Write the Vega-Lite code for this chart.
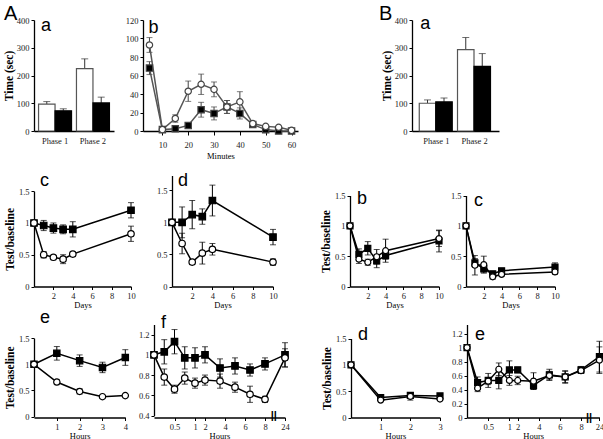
{
"$schema": "https://vega.github.io/schema/vega-lite/v6.json",
"background": "white",
"padding": {"left": 3, "top": 4, "right": 0, "bottom": 0},
"spacing": 0,
"resolve": {"scale": {"x": "independent", "y": "independent"}},
"config": {
  "view": {"stroke": null},
  "font": "Liberation Serif",
  "axis": {"grid": false, "labelFont": "Liberation Serif", "labelFontSize": 8.5, "labelColor": "#222", "domainColor": "#000", "domainWidth": 1.3, "tickColor": "#000", "tickWidth": 1, "tickSize": 3, "labelPadding": 2, "titleFont": "Liberation Serif", "titleColor": "#000", "labelFlush": false, "labelOverlap": false},
  "axisY": {"titleFontWeight": "bold", "titleFontSize": 11.5, "titlePadding": 3},
  "axisX": {"titleFontWeight": "normal", "titleFontSize": 8.5, "titlePadding": 0, "labelPadding": 2},
  "title": {"font": "Liberation Sans", "fontWeight": "normal", "fontSize": 18, "anchor": "start", "frame": "group", "baseline": "alphabetic", "color": "#000"}
},
"vconcat": [
{
 "hconcat": [
  {
   "width": 80, "height": 111,
   "title": {"text": "A", "fontSize": 20, "offset": -8, "dx": -30},
   "data": {"values": [
     {"phase": "Phase 1", "g": "open", "v": 97, "hi": 106},
     {"phase": "Phase 1", "g": "closed", "v": 73, "hi": 80},
     {"phase": "Phase 2", "g": "open", "v": 225, "hi": 260},
     {"phase": "Phase 2", "g": "closed", "v": 101, "hi": 122}]},
   "encoding": {
     "x": {"field": "phase", "type": "nominal", "scale": {"paddingInner": 0.13, "paddingOuter": 0.12}, "axis": {"title": null, "labelAngle": 0, "ticks": false, "labelPadding": 5}},
     "y": {"field": "v", "type": "quantitative", "scale": {"domain": [0, 400], "nice": false}, "axis": {"values": [0, 100, 200, 300, 400], "format": ".2~f", "title": "Time (sec)", "titlePadding": 2}}
   },
   "layer": [
     {"mark": {"type": "rule", "color": "#333", "strokeWidth": 1}, "encoding": {"xOffset": {"field": "g", "type": "nominal", "scale": {"domain": ["open", "closed"]}}, "y2": {"field": "hi"}}},
     {"mark": {"type": "tick", "color": "#333", "thickness": 1, "size": 7}, "encoding": {"xOffset": {"field": "g", "type": "nominal", "scale": {"domain": ["open", "closed"]}}, "y": {"field": "hi", "type": "quantitative", "title": "Time (sec)"}}},
     {"mark": {"type": "bar", "strokeWidth": 1.2}, "encoding": {"xOffset": {"field": "g", "type": "nominal", "scale": {"domain": ["open", "closed"]}}, "fill": {"field": "g", "type": "nominal", "scale": {"domain": ["open", "closed"], "range": ["#fff", "#000"]}, "legend": null}, "stroke": {"field": "g", "type": "nominal", "scale": {"domain": ["open", "closed"], "range": ["#555", "#000"]}, "legend": null}}}
   ]
  },
  {"width": 28.7, "height": 10, "title": {"text": "a", "offset": -15.3, "dx": -73}, "data": {"values": []}, "mark": "point", "encoding": {}},
  {
   "width": 155, "height": 111,
   "title": {"text": "b", "offset": -20.5, "dx": 5.5},
   "data": {"values": [
     {"t": 5, "g": "closed", "v": 68, "e": 7}, {"t": 10, "g": "closed", "v": 1.5, "e": 0}, {"t": 15, "g": "closed", "v": 2.5, "e": 0.5}, {"t": 20, "g": "closed", "v": 6, "e": 2}, {"t": 25, "g": "closed", "v": 23, "e": 8}, {"t": 30, "g": "closed", "v": 19, "e": 7}, {"t": 35, "g": "closed", "v": 26, "e": 7}, {"t": 40, "g": "closed", "v": 19, "e": 6}, {"t": 45, "g": "closed", "v": 7, "e": 1.5}, {"t": 50, "g": "closed", "v": 1.5, "e": 0}, {"t": 55, "g": "closed", "v": 0, "e": 0}, {"t": 60, "g": "closed", "v": 0, "e": 0},
     {"t": 5, "g": "open", "v": 93, "e": 8}, {"t": 10, "g": "open", "v": 1.5, "e": 0}, {"t": 15, "g": "open", "v": 13.5, "e": 4}, {"t": 20, "g": "open", "v": 43, "e": 11}, {"t": 25, "g": "open", "v": 50.5, "e": 11}, {"t": 30, "g": "open", "v": 45, "e": 8}, {"t": 35, "g": "open", "v": 26, "e": 7}, {"t": 40, "g": "open", "v": 31.5, "e": 11}, {"t": 45, "g": "open", "v": 8, "e": 2}, {"t": 50, "g": "open", "v": 5, "e": 1}, {"t": 55, "g": "open", "v": 4, "e": 1}, {"t": 60, "g": "open", "v": 0.7, "e": 0}]},
   "encoding": {
     "x": {"field": "t", "type": "quantitative", "scale": {"domain": [2.5, 62.5], "nice": false, "zero": false}, "axis": {"values": [10, 20, 30, 40, 50, 60], "format": ".2~f", "title": "Minutes", "tickSize": 4, "labelPadding": 5, "titlePadding": 3}},
     "y": {"field": "v", "type": "quantitative", "scale": {"domain": [0, 120], "nice": false}, "axis": {"values": [0, 20, 40, 60, 80, 100, 120], "format": ".2~f", "title": null}}
   },
   "layer": [
     {"mark": {"type": "errorbar", "ticks": {"size": 6}, "color": "#444", "thickness": 1}, "encoding": {"yError": {"field": "e"}, "detail": {"field": "g"}}},
     {"mark": {"type": "line", "color": "#555", "strokeWidth": 1.5}, "encoding": {"detail": {"field": "g"}}},
     {"mark": {"type": "point", "filled": true, "opacity": 1, "stroke": "#444", "strokeWidth": 1.2, "size": 40}, "encoding": {"shape": {"field": "g", "type": "nominal", "scale": {"domain": ["closed", "open"], "range": ["square", "circle"]}, "legend": null}, "fill": {"field": "g", "type": "nominal", "scale": {"domain": ["closed", "open"], "range": ["#444", "#fff"]}, "legend": null}}}
   ]
  },
  {"width": 114, "height": 10, "title": {"text": "a", "offset": -13.3, "dx": 122.3}, "data": {"values": []}, "mark": "point", "encoding": {}},
  {
   "width": 87, "height": 111,
   "title": {"text": "B", "fontSize": 20, "offset": -8, "dx": -33},
   "data": {"values": [
     {"phase": "Phase 1", "g": "open", "v": 100, "hi": 112},
     {"phase": "Phase 1", "g": "closed", "v": 105, "hi": 119},
     {"phase": "Phase 2", "g": "open", "v": 293, "hi": 337},
     {"phase": "Phase 2", "g": "closed", "v": 233, "hi": 279}]},
   "encoding": {
     "x": {"field": "phase", "type": "nominal", "scale": {"paddingInner": 0.105, "paddingOuter": 0.19}, "axis": {"title": null, "labelAngle": 0, "ticks": false, "labelPadding": 5}},
     "y": {"field": "v", "type": "quantitative", "scale": {"domain": [0, 400], "nice": false}, "axis": {"values": [0, 100, 200, 300, 400], "format": ".2~f", "title": "Time (sec)", "titlePadding": 2}}
   },
   "layer": [
     {"mark": {"type": "rule", "color": "#333", "strokeWidth": 1}, "encoding": {"xOffset": {"field": "g", "type": "nominal", "scale": {"domain": ["open", "closed"]}}, "y2": {"field": "hi"}}},
     {"mark": {"type": "tick", "color": "#333", "thickness": 1, "size": 7}, "encoding": {"xOffset": {"field": "g", "type": "nominal", "scale": {"domain": ["open", "closed"]}}, "y": {"field": "hi", "type": "quantitative", "title": "Time (sec)"}}},
     {"mark": {"type": "bar", "strokeWidth": 1.2}, "encoding": {"xOffset": {"field": "g", "type": "nominal", "scale": {"domain": ["open", "closed"]}}, "fill": {"field": "g", "type": "nominal", "scale": {"domain": ["open", "closed"], "range": ["#fff", "#000"]}, "legend": null}, "stroke": {"field": "g", "type": "nominal", "scale": {"domain": ["open", "closed"], "range": ["#555", "#000"]}, "legend": null}}}
   ]
  }
 ],
 "spacing": 0, "bounds": "flush",
 "resolve": {"scale": {"x": "independent", "y": "independent"}}
},
{
 "hconcat": [
  {
   "width": 97, "height": 126.5,
   "title": {"text": "c", "offset": -29.5, "dx": 6},
   "data": {"values": [
     {"t": 0, "g": "closed", "v": 1, "e": 0}, {"t": 1, "g": "closed", "v": 0.96, "e": 0.08}, {"t": 2, "g": "closed", "v": 0.92, "e": 0.08}, {"t": 3, "g": "closed", "v": 0.9, "e": 0.07}, {"t": 4, "g": "closed", "v": 0.9, "e": 0.12}, {"t": 10, "g": "closed", "v": 1.2, "e": 0.12},
     {"t": 0, "g": "open", "v": 1, "e": 0}, {"t": 1, "g": "open", "v": 0.5, "e": 0.05}, {"t": 2, "g": "open", "v": 0.46, "e": 0.02}, {"t": 3, "g": "open", "v": 0.43, "e": 0.07}, {"t": 4, "g": "open", "v": 0.51, "e": 0.03}, {"t": 10, "g": "open", "v": 0.83, "e": 0.12}]},
   "encoding": {
     "x": {"field": "t", "type": "quantitative", "scale": {"domain": [0, 10], "nice": false, "zero": false}, "axis": {"values": [2, 4, 6, 8, 10], "format": ".2~f", "title": "Days"}},
     "y": {"field": "v", "type": "quantitative", "scale": {"domain": [0, 1.5], "range": [126.5, 31.2], "nice": false}, "axis": {"values": [0, 0.5, 1, 1.5], "format": ".2~f", "title": "Test/baseline"}}
   },
   "layer": [
     {"mark": {"type": "errorbar", "ticks": {"size": 6}, "color": "#000", "thickness": 1}, "encoding": {"yError": {"field": "e"}, "detail": {"field": "g"}}},
     {"mark": {"type": "line", "color": "#000", "strokeWidth": 1.5}, "encoding": {"detail": {"field": "g"}}},
     {"mark": {"type": "point", "filled": true, "opacity": 1, "stroke": "#000", "strokeWidth": 1.2, "size": 42}, "encoding": {"shape": {"field": "g", "type": "nominal", "scale": {"domain": ["closed", "open"], "range": ["square", "circle"]}, "legend": null}, "fill": {"field": "g", "type": "nominal", "scale": {"domain": ["closed", "open"], "range": ["#000", "#fff"]}, "legend": null}}}
   ]
  },
  {"width": 40.7, "height": 10, "data": {"values": []}, "mark": "point", "encoding": {}},
  {
   "width": 101, "height": 126.5,
   "title": {"text": "d", "offset": -29.5, "dx": 6},
   "data": {"values": [
     {"t": 0, "g": "closed", "v": 1, "e": 0}, {"t": 1, "g": "closed", "v": 1.0, "e": 0.24}, {"t": 2, "g": "closed", "v": 1.12, "e": 0.22}, {"t": 3, "g": "closed", "v": 1.09, "e": 0.12}, {"t": 4, "g": "closed", "v": 1.34, "e": 0.24}, {"t": 10, "g": "closed", "v": 0.77, "e": 0.12},
     {"t": 0, "g": "open", "v": 1, "e": 0}, {"t": 1, "g": "open", "v": 0.67, "e": 0.16}, {"t": 2, "g": "open", "v": 0.38, "e": 0.03}, {"t": 3, "g": "open", "v": 0.52, "e": 0.17}, {"t": 4, "g": "open", "v": 0.58, "e": 0.09}, {"t": 10, "g": "open", "v": 0.38, "e": 0.05}]},
   "encoding": {
     "x": {"field": "t", "type": "quantitative", "scale": {"domain": [0, 10], "nice": false, "zero": false}, "axis": {"values": [2, 4, 6, 8, 10], "format": ".2~f", "title": "Days"}},
     "y": {"field": "v", "type": "quantitative", "scale": {"domain": [0, 1.73], "range": [126.5, 15.5], "nice": false}, "axis": {"values": [0, 0.5, 1, 1.5], "format": ".2~f", "title": null}}
   },
   "layer": [
     {"mark": {"type": "errorbar", "ticks": {"size": 6}, "color": "#000", "thickness": 1}, "encoding": {"yError": {"field": "e"}, "detail": {"field": "g"}}},
     {"mark": {"type": "line", "color": "#000", "strokeWidth": 1.5}, "encoding": {"detail": {"field": "g"}}},
     {"mark": {"type": "point", "filled": true, "opacity": 1, "stroke": "#000", "strokeWidth": 1.2, "size": 42}, "encoding": {"shape": {"field": "g", "type": "nominal", "scale": {"domain": ["closed", "open"], "range": ["square", "circle"]}, "legend": null}, "fill": {"field": "g", "type": "nominal", "scale": {"domain": ["closed", "open"], "range": ["#000", "#fff"]}, "legend": null}}}
   ]
  },
  {"width": 76.6, "height": 10, "data": {"values": []}, "mark": "point", "encoding": {}},
  {
   "width": 89, "height": 126.5,
   "title": {"text": "b", "offset": -47.5, "dx": 7},
   "data": {"values": [
     {"t": 0, "g": "closed", "v": 1, "e": 0}, {"t": 1, "g": "closed", "v": 0.53, "e": 0.09}, {"t": 2, "g": "closed", "v": 0.63, "e": 0.11}, {"t": 3, "g": "closed", "v": 0.42, "e": 0.11}, {"t": 4, "g": "closed", "v": 0.51, "e": 0.06}, {"t": 10, "g": "closed", "v": 0.75, "e": 0.18},
     {"t": 0, "g": "open", "v": 1, "e": 0}, {"t": 1, "g": "open", "v": 0.45, "e": 0.07}, {"t": 2, "g": "open", "v": 0.4, "e": 0.05}, {"t": 3, "g": "open", "v": 0.49, "e": 0.12}, {"t": 4, "g": "open", "v": 0.59, "e": 0.19}, {"t": 10, "g": "open", "v": 0.79, "e": 0.13}]},
   "encoding": {
     "x": {"field": "t", "type": "quantitative", "scale": {"domain": [0, 10], "nice": false, "zero": false}, "axis": {"values": [2, 4, 6, 8, 10], "format": ".2~f", "title": "Days"}},
     "y": {"field": "v", "type": "quantitative", "scale": {"domain": [0, 1.5], "range": [126.5, 35.5], "nice": false}, "axis": {"values": [0, 0.5, 1, 1.5], "format": ".2~f", "title": "Test/baseline"}}
   },
   "layer": [
     {"mark": {"type": "errorbar", "ticks": {"size": 6}, "color": "#000", "thickness": 1}, "encoding": {"yError": {"field": "e"}, "detail": {"field": "g"}}},
     {"mark": {"type": "line", "color": "#000", "strokeWidth": 1.5}, "encoding": {"detail": {"field": "g"}}},
     {"mark": {"type": "point", "filled": true, "opacity": 1, "stroke": "#000", "strokeWidth": 1.2, "size": 36}, "encoding": {"shape": {"field": "g", "type": "nominal", "scale": {"domain": ["closed", "open"], "range": ["square", "circle"]}, "legend": null}, "fill": {"field": "g", "type": "nominal", "scale": {"domain": ["closed", "open"], "range": ["#000", "#fff"]}, "legend": null}}}
   ]
  },
  {"width": 27, "height": 10, "data": {"values": []}, "mark": "point", "encoding": {}},
  {
   "width": 89, "height": 126.5,
   "title": {"text": "c", "offset": -49.5, "dx": 8},
   "data": {"values": [
     {"t": 0, "g": "closed", "v": 1, "e": 0}, {"t": 1, "g": "closed", "v": 0.39, "e": 0.07}, {"t": 2, "g": "closed", "v": 0.29, "e": 0.05}, {"t": 3, "g": "closed", "v": 0.21, "e": 0.03}, {"t": 4, "g": "closed", "v": 0.26, "e": 0.03}, {"t": 10, "g": "closed", "v": 0.32, "e": 0.07},
     {"t": 0, "g": "open", "v": 1, "e": 0}, {"t": 1, "g": "open", "v": 0.35, "e": 0.16}, {"t": 2, "g": "open", "v": 0.36, "e": 0.14}, {"t": 3, "g": "open", "v": 0.16, "e": 0.04}, {"t": 4, "g": "open", "v": 0.2, "e": 0.03}, {"t": 10, "g": "open", "v": 0.24, "e": 0.04}]},
   "encoding": {
     "x": {"field": "t", "type": "quantitative", "scale": {"domain": [0, 10], "nice": false, "zero": false}, "axis": {"values": [2, 4, 6, 8, 10], "format": ".2~f", "title": "Days"}},
     "y": {"field": "v", "type": "quantitative", "scale": {"domain": [0, 1.5], "range": [126.5, 35.5], "nice": false}, "axis": {"values": [0, 0.5, 1, 1.5], "format": ".2~f", "title": null}}
   },
   "layer": [
     {"mark": {"type": "errorbar", "ticks": {"size": 6}, "color": "#000", "thickness": 1}, "encoding": {"yError": {"field": "e"}, "detail": {"field": "g"}}},
     {"mark": {"type": "line", "color": "#000", "strokeWidth": 1.5}, "encoding": {"detail": {"field": "g"}}},
     {"mark": {"type": "point", "filled": true, "opacity": 1, "stroke": "#000", "strokeWidth": 1.2, "size": 36}, "encoding": {"shape": {"field": "g", "type": "nominal", "scale": {"domain": ["closed", "open"], "range": ["square", "circle"]}, "legend": null}, "fill": {"field": "g", "type": "nominal", "scale": {"domain": ["closed", "open"], "range": ["#000", "#fff"]}, "legend": null}}}
   ]
  }
 ],
 "spacing": 0, "bounds": "flush",
 "resolve": {"scale": {"x": "independent", "y": "independent"}}
},
{
 "hconcat": [
  {
   "width": 91.3, "height": 108.5,
   "title": {"text": "e", "offset": -18, "dx": 6},
   "data": {"values": [
     {"t": 0, "g": "closed", "v": 1, "e": 0}, {"t": 1, "g": "closed", "v": 1.21, "e": 0.13}, {"t": 2, "g": "closed", "v": 1.07, "e": 0.11}, {"t": 3, "g": "closed", "v": 0.94, "e": 0.1}, {"t": 4, "g": "closed", "v": 1.13, "e": 0.15},
     {"t": 0, "g": "open", "v": 1, "e": 0}, {"t": 1, "g": "open", "v": 0.66, "e": 0.05}, {"t": 2, "g": "open", "v": 0.48, "e": 0.05}, {"t": 3, "g": "open", "v": 0.38, "e": 0.02}, {"t": 4, "g": "open", "v": 0.4, "e": 0.02}]},
   "encoding": {
     "x": {"field": "t", "type": "quantitative", "scale": {"domain": [0, 4], "nice": false, "zero": false}, "axis": {"values": [1, 2, 3, 4], "format": ".2~f", "title": "Hours"}},
     "y": {"field": "v", "type": "quantitative", "scale": {"domain": [0, 1.5], "range": [107.5, 29.2], "nice": false}, "axis": {"values": [0, 0.5, 1, 1.5], "format": ".2~f", "title": "Test/baseline"}}
   },
   "layer": [
     {"mark": {"type": "errorbar", "ticks": {"size": 6}, "color": "#000", "thickness": 1}, "encoding": {"yError": {"field": "e"}, "detail": {"field": "g"}}},
     {"mark": {"type": "line", "color": "#000", "strokeWidth": 1.5}, "encoding": {"detail": {"field": "g"}}},
     {"mark": {"type": "point", "filled": true, "opacity": 1, "stroke": "#000", "strokeWidth": 1.2, "size": 40}, "encoding": {"shape": {"field": "g", "type": "nominal", "scale": {"domain": ["closed", "open"], "range": ["square", "circle"]}, "legend": null}, "fill": {"field": "g", "type": "nominal", "scale": {"domain": ["closed", "open"], "range": ["#000", "#fff"]}, "legend": null}}}
   ]
  },
  {"width": 27.4, "height": 10, "data": {"values": []}, "mark": "point", "encoding": {}},
  {
   "width": 131, "height": 108.5,
   "title": {"text": "f", "offset": -23.2, "dx": 7},
   "data": {"values": [
     {"t": 0, "g": "closed", "v": 1.0, "e": 0}, {"t": 0.25, "g": "closed", "v": 1.03, "e": 0.12}, {"t": 0.5, "g": "closed", "v": 1.13, "e": 0.12}, {"t": 0.75, "g": "closed", "v": 0.97, "e": 0.11}, {"t": 1, "g": "closed", "v": 0.97, "e": 0.1}, {"t": 2, "g": "closed", "v": 1.0, "e": 0.08}, {"t": 3.5, "g": "closed", "v": 0.87, "e": 0.09}, {"t": 5, "g": "closed", "v": 0.89, "e": 0.08}, {"t": 6.5, "g": "closed", "v": 0.85, "e": 0.06}, {"t": 8, "g": "closed", "v": 0.91, "e": 0.06}, {"t": 24, "g": "closed", "v": 1.0, "e": 0.12},
     {"t": 0, "g": "open", "v": 1.0, "e": 0}, {"t": 0.25, "g": "open", "v": 0.78, "e": 0.08}, {"t": 0.5, "g": "open", "v": 0.66, "e": 0.04}, {"t": 0.75, "g": "open", "v": 0.77, "e": 0.06}, {"t": 1, "g": "open", "v": 0.72, "e": 0.05}, {"t": 2, "g": "open", "v": 0.75, "e": 0.05}, {"t": 3.5, "g": "open", "v": 0.74, "e": 0.07}, {"t": 5, "g": "open", "v": 0.68, "e": 0.05}, {"t": 6.5, "g": "open", "v": 0.61, "e": 0.08}, {"t": 8, "g": "open", "v": 0.56, "e": 0.03}, {"t": 24, "g": "open", "v": 0.97, "e": 0.09}]},
   "encoding": {
     "x": {"field": "t", "type": "quantitative", "scale": {"domain": [0, 1, 2, 8, 24], "range": [0, 41, 51, 111, 131], "nice": false, "zero": false}, "axis": {"values": [0.5, 1, 2, 4, 6, 8, 24], "format": ".2~f", "title": "Hours"}},
     "y": {"field": "v", "type": "quantitative", "scale": {"domain": [0.4, 1.3], "range": [106.5, 15.5], "nice": false, "zero": false}, "axis": {"values": [0.4, 0.6, 0.8, 1, 1.2], "format": ".2~f", "title": null}}
   },
   "layer": [
     {"mark": {"type": "errorbar", "ticks": {"size": 6}, "color": "#000", "thickness": 1}, "encoding": {"yError": {"field": "e"}, "detail": {"field": "g"}}},
     {"mark": {"type": "line", "color": "#000", "strokeWidth": 1.5}, "encoding": {"detail": {"field": "g"}}},
     {"mark": {"type": "point", "filled": true, "opacity": 1, "stroke": "#000", "strokeWidth": 1.2, "size": 42}, "encoding": {"shape": {"field": "g", "type": "nominal", "scale": {"domain": ["closed", "open"], "range": ["square", "circle"]}, "legend": null}, "fill": {"field": "g", "type": "nominal", "scale": {"domain": ["closed", "open"], "range": ["#000", "#fff"]}, "legend": null}}},
     {"data": {"values": [{"t": 15, "v": 0.4}]}, "mark": {"type": "text", "text": "||", "font": "Liberation Sans", "fontWeight": "bold", "fontSize": 11, "align": "center", "baseline": "middle"}}
   ]
  },
  {"width": 65.6, "height": 10, "data": {"values": []}, "mark": "point", "encoding": {}},
  {
   "width": 89, "height": 108.5,
   "title": {"text": "d", "offset": -34.5, "dx": 7},
   "data": {"values": [
     {"t": 0, "g": "closed", "v": 1, "e": 0}, {"t": 1, "g": "closed", "v": 0.38, "e": 0.02}, {"t": 2, "g": "closed", "v": 0.42, "e": 0.05}, {"t": 3, "g": "closed", "v": 0.41, "e": 0.03},
     {"t": 0, "g": "open", "v": 1, "e": 0}, {"t": 1, "g": "open", "v": 0.33, "e": 0.01}, {"t": 2, "g": "open", "v": 0.4, "e": 0.07}, {"t": 3, "g": "open", "v": 0.35, "e": 0.03}]},
   "encoding": {
     "x": {"field": "t", "type": "quantitative", "scale": {"domain": [0, 3], "nice": false, "zero": false}, "axis": {"values": [1, 2, 3], "format": ".2~f", "title": "Hours"}},
     "y": {"field": "v", "type": "quantitative", "scale": {"domain": [0, 1.5], "range": [108.5, 29.5], "nice": false}, "axis": {"values": [0, 0.5, 1, 1.5], "format": ".2~f", "title": "Test/baseline"}}
   },
   "layer": [
     {"mark": {"type": "errorbar", "ticks": {"size": 6}, "color": "#000", "thickness": 1}, "encoding": {"yError": {"field": "e"}, "detail": {"field": "g"}}},
     {"mark": {"type": "line", "color": "#000", "strokeWidth": 1.5}, "encoding": {"detail": {"field": "g"}}},
     {"mark": {"type": "point", "filled": true, "opacity": 1, "stroke": "#000", "strokeWidth": 1.2, "size": 36}, "encoding": {"shape": {"field": "g", "type": "nominal", "scale": {"domain": ["closed", "open"], "range": ["square", "circle"]}, "legend": null}, "fill": {"field": "g", "type": "nominal", "scale": {"domain": ["closed", "open"], "range": ["#000", "#fff"]}, "legend": null}}}
   ]
  },
  {"width": 27, "height": 10, "data": {"values": []}, "mark": "point", "encoding": {}},
  {
   "width": 133, "height": 108.5,
   "title": {"text": "e", "offset": -34.5, "dx": 8},
   "data": {"values": [
     {"t": 0, "g": "closed", "v": 1.0, "e": 0}, {"t": 0.25, "g": "closed", "v": 0.5, "e": 0.08}, {"t": 0.5, "g": "closed", "v": 0.53, "e": 0.1}, {"t": 0.75, "g": "closed", "v": 0.53, "e": 0.12}, {"t": 1, "g": "closed", "v": 0.68, "e": 0.13}, {"t": 2, "g": "closed", "v": 0.68, "e": 0.04}, {"t": 3.5, "g": "closed", "v": 0.46, "e": 0.06}, {"t": 5, "g": "closed", "v": 0.61, "e": 0.08}, {"t": 6.5, "g": "closed", "v": 0.58, "e": 0.09}, {"t": 8, "g": "closed", "v": 0.68, "e": 0.05}, {"t": 24, "g": "closed", "v": 0.87, "e": 0.22},
     {"t": 0, "g": "open", "v": 1.0, "e": 0}, {"t": 0.25, "g": "open", "v": 0.42, "e": 0.05}, {"t": 0.5, "g": "open", "v": 0.52, "e": 0.05}, {"t": 0.75, "g": "open", "v": 0.69, "e": 0.09}, {"t": 1, "g": "open", "v": 0.53, "e": 0.07}, {"t": 2, "g": "open", "v": 0.53, "e": 0.06}, {"t": 3.5, "g": "open", "v": 0.52, "e": 0.12}, {"t": 5, "g": "open", "v": 0.6, "e": 0.06}, {"t": 6.5, "g": "open", "v": 0.58, "e": 0.08}, {"t": 8, "g": "open", "v": 0.67, "e": 0.04}, {"t": 24, "g": "open", "v": 0.82, "e": 0.19}]},
   "encoding": {
     "x": {"field": "t", "type": "quantitative", "scale": {"domain": [0, 1, 2, 8, 24], "range": [0, 42.4, 50.7, 114, 132.4], "nice": false, "zero": false}, "axis": {"values": [0.5, 1, 2, 4, 6, 8, 24], "format": ".2~f", "title": "Hours"}},
     "y": {"field": "v", "type": "quantitative", "scale": {"domain": [0, 1.33], "range": [108.5, 15.5], "nice": false}, "axis": {"values": [0, 0.2, 0.4, 0.6, 0.8, 1, 1.2], "format": ".2~f", "title": null}}
   },
   "layer": [
     {"mark": {"type": "errorbar", "ticks": {"size": 6}, "color": "#000", "thickness": 1}, "encoding": {"yError": {"field": "e"}, "detail": {"field": "g"}}},
     {"mark": {"type": "line", "color": "#000", "strokeWidth": 1.5}, "encoding": {"detail": {"field": "g"}}},
     {"mark": {"type": "point", "filled": true, "opacity": 1, "stroke": "#000", "strokeWidth": 1.2, "size": 36}, "encoding": {"shape": {"field": "g", "type": "nominal", "scale": {"domain": ["closed", "open"], "range": ["square", "circle"]}, "legend": null}, "fill": {"field": "g", "type": "nominal", "scale": {"domain": ["closed", "open"], "range": ["#000", "#fff"]}, "legend": null}}},
     {"data": {"values": [{"t": 15, "v": 0}]}, "mark": {"type": "text", "text": "||", "font": "Liberation Sans", "fontWeight": "bold", "fontSize": 11, "align": "center", "baseline": "middle"}}
   ]
  }
 ],
 "spacing": 0, "bounds": "flush",
 "resolve": {"scale": {"x": "independent", "y": "independent"}}
}
]
}
